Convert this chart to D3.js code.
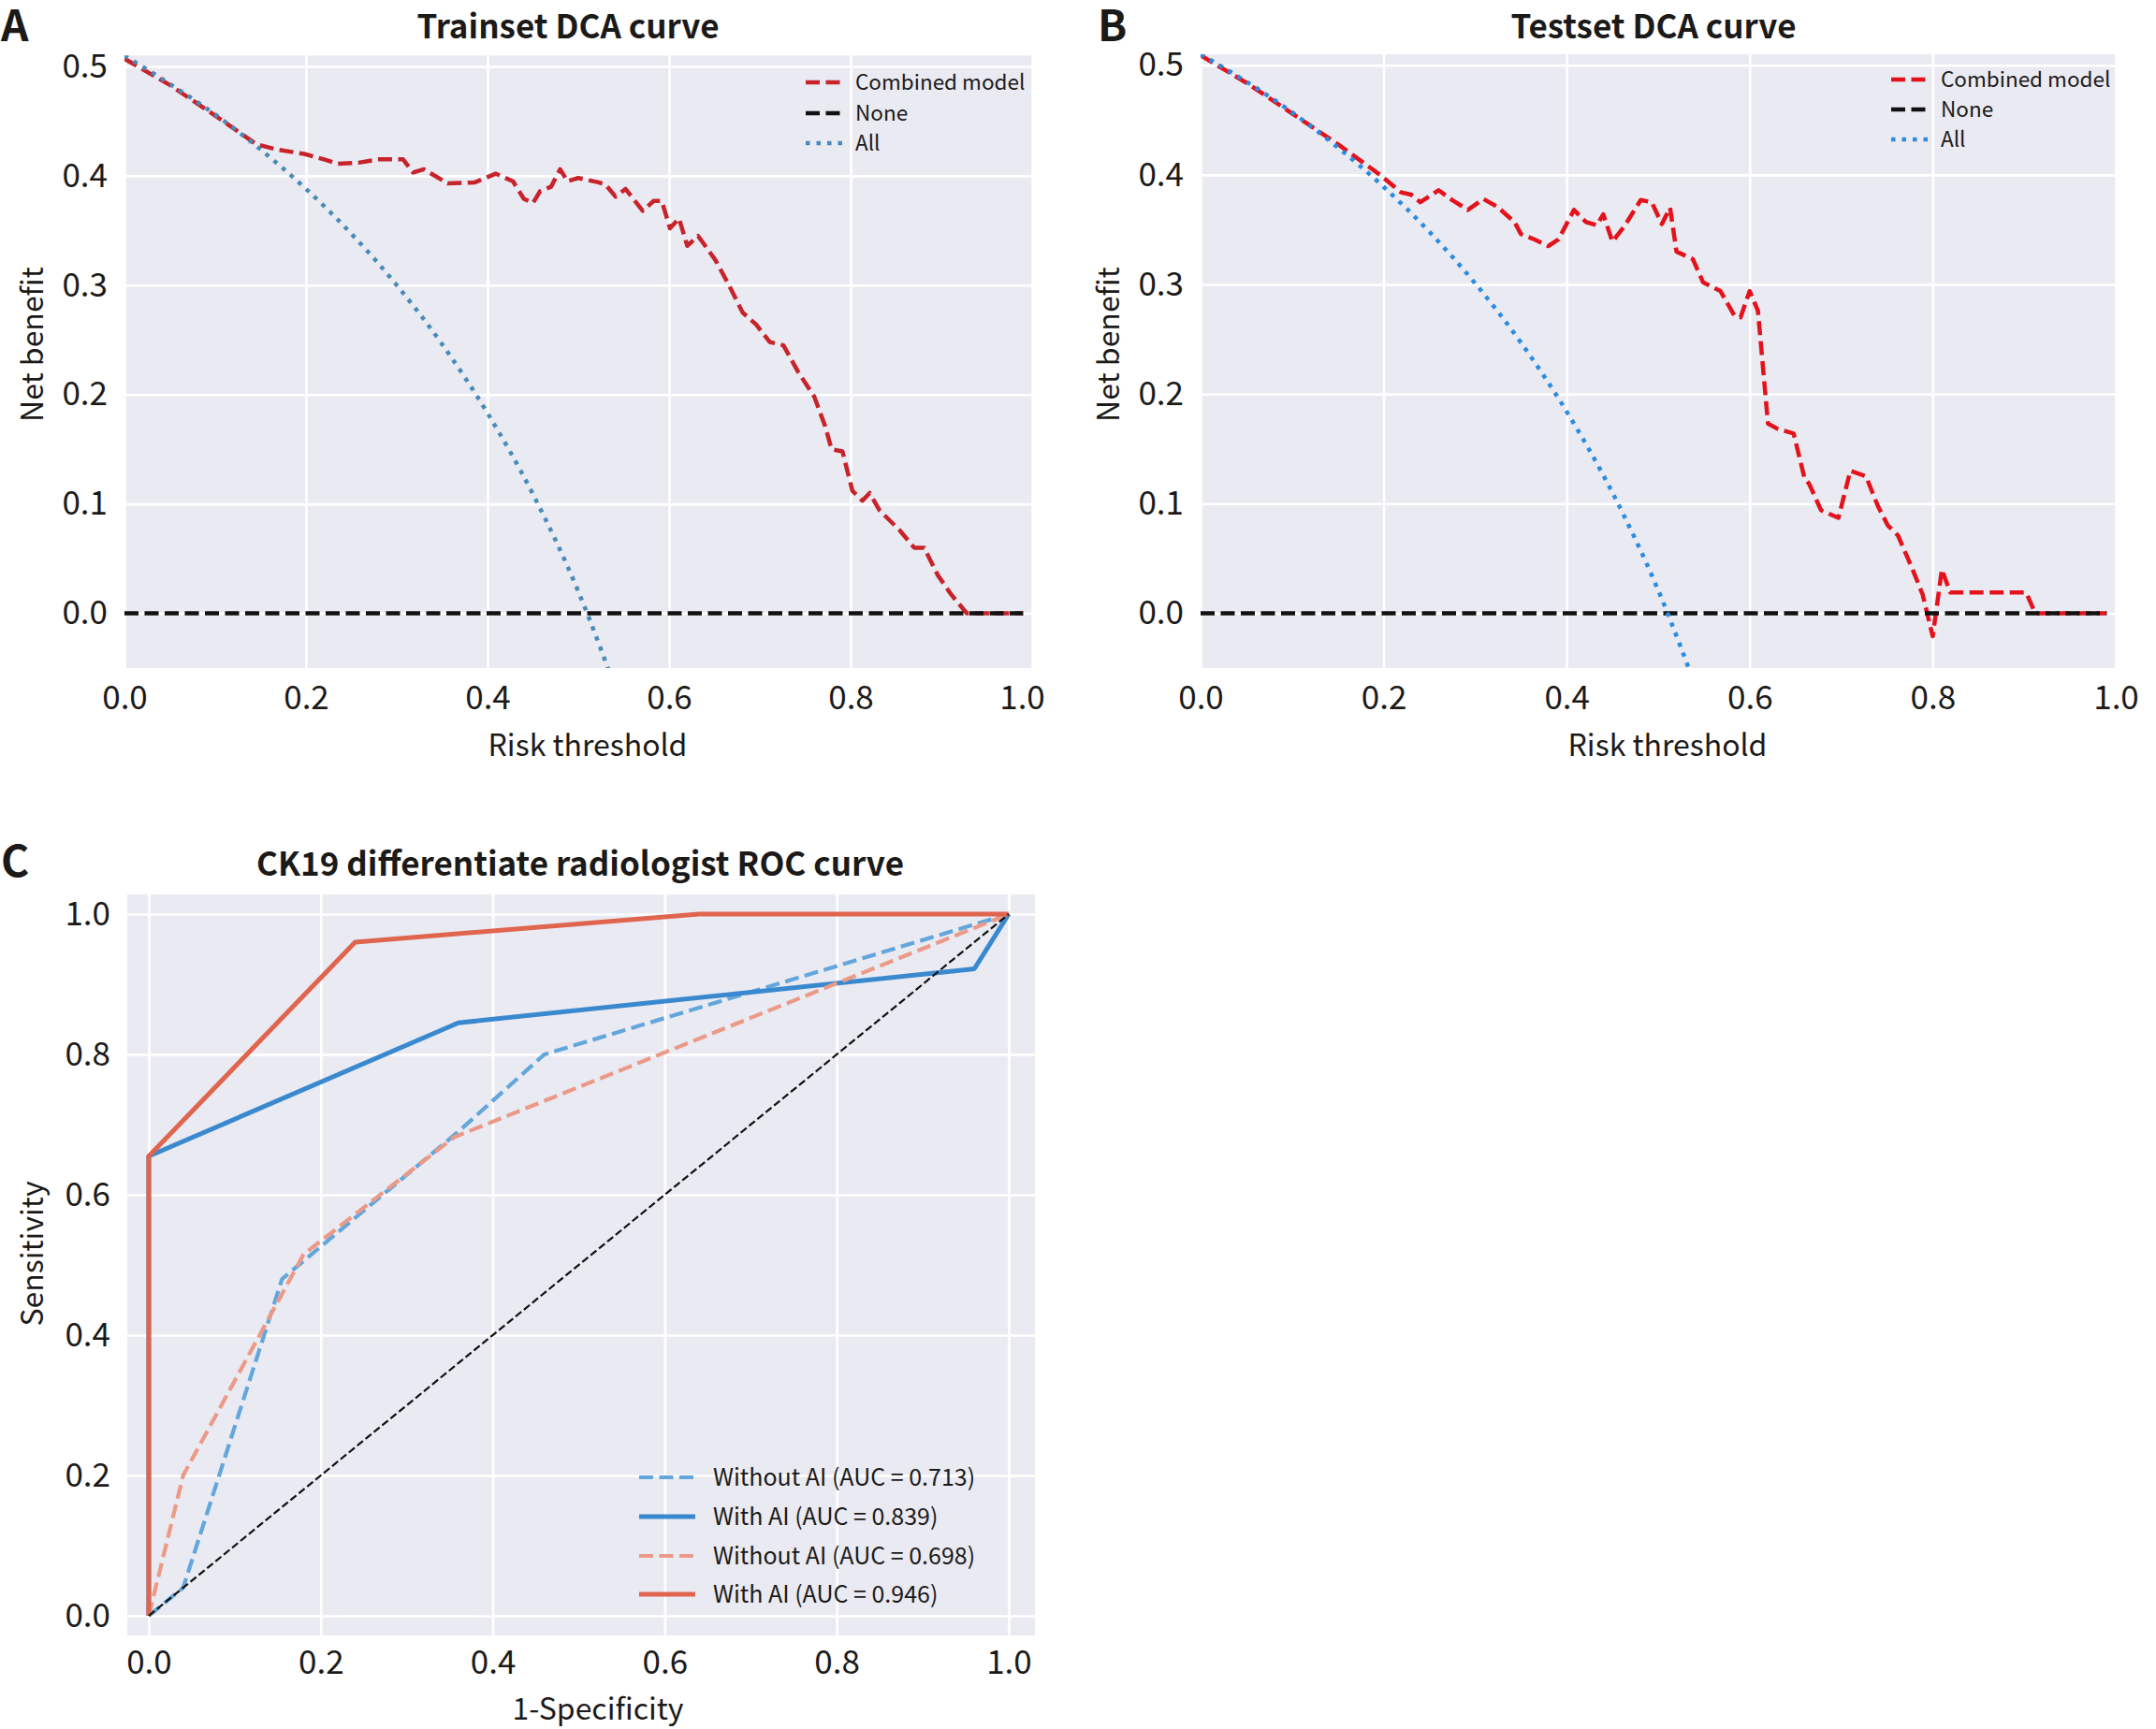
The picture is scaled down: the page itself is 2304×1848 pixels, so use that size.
<!DOCTYPE html>
<html>
<head>
<meta charset="utf-8">
<script src="https://cdn.jsdelivr.net/npm/d3@7"></script>
<style>
  body { margin: 0; background: #fff; }
  text { font-family: "Noto Sans CJK SC", "Noto Sans", sans-serif; fill: #1c1a19; }
</style>
</head>
<body>
<script>
const width = 2304;
const height = 1848;

// ---- data ----
const dcaTicksX = [0, 0.2, 0.4, 0.6, 0.8, 1.0];
const dcaTicksY = [0, 0.1, 0.2, 0.3, 0.4, 0.5];
const rocTicks = [0, 0.2, 0.4, 0.6, 0.8, 1.0];

// "All" strategy curves
const allThreshold = [0, 0.05, 0.1, 0.15, 0.2, 0.25, 0.3, 0.35, 0.4, 0.45, 0.5, 0.55];
const trainAll = [0.51, 0.484, 0.456, 0.424, 0.388, 0.347, 0.30, 0.246, 0.183, 0.109, 0.02, -0.09];
const testAll = [0.51, 0.485, 0.457, 0.425, 0.389, 0.348, 0.301, 0.247, 0.184, 0.11, 0.021, -0.088];

// "None" strategy
const noneThreshold = [0, 0.99];
const noneBenefit = [0, 0];

// combined model, train set
const trainThreshold = [0, 0.05, 0.1, 0.145, 0.168, 0.198, 0.22, 0.235, 0.258, 0.28, 0.307, 0.318, 0.33, 0.356, 0.386,
  0.409, 0.428, 0.44, 0.45, 0.458, 0.47, 0.48, 0.488, 0.5, 0.522, 0.53, 0.541, 0.552, 0.571, 0.583, 0.592, 0.601,
  0.611, 0.62, 0.632, 0.651, 0.666, 0.681, 0.696, 0.711, 0.726, 0.742, 0.76, 0.772, 0.779, 0.791, 0.802, 0.813,
  0.821, 0.832, 0.854, 0.87, 0.881, 0.896, 0.911, 0.928, 0.99];
const trainModel = [0.507, 0.483, 0.455, 0.429, 0.424, 0.42, 0.415, 0.411, 0.412, 0.415, 0.415, 0.403, 0.406, 0.393, 0.394,
  0.402, 0.395, 0.379, 0.375, 0.386, 0.39, 0.406, 0.395, 0.398, 0.394, 0.392, 0.381, 0.388, 0.368, 0.377, 0.377, 0.352,
  0.361, 0.336, 0.345, 0.323, 0.30, 0.275, 0.264, 0.248, 0.245, 0.221, 0.198, 0.171, 0.15, 0.148, 0.112, 0.103,
  0.11, 0.094, 0.076, 0.06, 0.06, 0.035, 0.017, 0.0, 0.0];

// combined model, test set
const testThreshold = [0, 0.05, 0.1, 0.15, 0.196, 0.219, 0.23, 0.24, 0.26, 0.275, 0.292, 0.309, 0.324, 0.343, 0.35,
  0.365, 0.38, 0.391, 0.408, 0.421, 0.433, 0.44, 0.45, 0.463, 0.481, 0.493, 0.504, 0.513, 0.52, 0.538, 0.549, 0.568,
  0.583, 0.59, 0.6, 0.609, 0.62, 0.631, 0.648, 0.66, 0.665, 0.678, 0.697, 0.71, 0.727, 0.74, 0.751, 0.762, 0.778,
  0.789, 0.8, 0.81, 0.819, 0.902, 0.912, 0.99];
const testModel = [0.509, 0.484, 0.456, 0.428, 0.4, 0.384, 0.382, 0.375, 0.386, 0.377, 0.368, 0.378, 0.371, 0.357, 0.346,
  0.341, 0.335, 0.341, 0.368, 0.357, 0.354, 0.364, 0.339, 0.353, 0.377, 0.375, 0.355, 0.37, 0.33, 0.323, 0.302, 0.294,
  0.272, 0.27, 0.294, 0.276, 0.173, 0.168, 0.164, 0.123, 0.118, 0.094, 0.087, 0.13, 0.125, 0.098, 0.08, 0.071, 0.04,
  0.017, -0.021, 0.04, 0.019, 0.019, 0.0, 0.0];

// ROC curves
const rocLabels = ["Without AI (AUC = 0.713)", "With AI (AUC = 0.839)", "Without AI (AUC = 0.698)", "With AI (AUC = 0.946)"];
const rocFpr1 = [0, 0.04, 0.155, 0.36, 0.46, 1];
const rocTpr1 = [0, 0.04, 0.48, 0.69, 0.80, 1];
const rocFpr2 = [0, 0, 0.36, 0.96, 1];
const rocTpr2 = [0, 0.655, 0.845, 0.922, 1];
const rocFpr3 = [0, 0.04, 0.18, 0.355, 1];
const rocTpr3 = [0, 0.2, 0.515, 0.682, 1];
const rocFpr4 = [0, 0, 0.24, 0.64, 1];
const rocTpr4 = [0, 0.655, 0.96, 1, 1];
const chanceFpr = [0, 1];
const chanceTpr = [0, 1];

const fmt = d3.format(".1f");

const svg = d3.select("body").append("svg")
  .attr("width", width)
  .attr("height", height);

const defs = svg.append("defs");

function makePanel(id, xr, yr, xdom, ydom, xt, yt, xpad) {
  const x = d3.scaleLinear().domain(xdom).range(xr);
  const y = d3.scaleLinear().domain(ydom).range(yr);
  const g = svg.append("g");
  g.append("rect")
    .attr("x", xr[0]).attr("y", yr[1])
    .attr("width", xr[1] - xr[0]).attr("height", yr[0] - yr[1])
    .attr("fill", "#eaeaf2");
  defs.append("clipPath").attr("id", id)
    .append("rect")
    .attr("x", xr[0]).attr("y", yr[1])
    .attr("width", xr[1] - xr[0]).attr("height", yr[0] - yr[1]);

  // gridlines + tick labels through d3 axes
  const ax = g.append("g").attr("transform", `translate(0,${yr[0]})`)
    .call(d3.axisBottom(x).tickValues(xt).tickFormat(fmt).tickSize(-(yr[0] - yr[1])).tickPadding(xpad));
  const ay = g.append("g").attr("transform", `translate(${xr[0]},0)`)
    .call(d3.axisLeft(y).tickValues(yt).tickFormat(fmt).tickSize(-(xr[1] - xr[0])).tickPadding(18));
  [ax, ay].forEach(a => {
    a.select(".domain").remove();
    a.selectAll(".tick line").attr("stroke", "#fff").attr("stroke-width", 2.6);
    a.selectAll(".tick text").style("font-size", "35px").attr("fill", "#1c1a19");
  });
  const plot = g.append("g").attr("clip-path", `url(#${id})`);
  return { x, y, g, plot, ax };
}

function drawLine(p, xs, ys, style, curve) {
  const line = d3.line()
    .x((d, i) => p.x(xs[i]))
    .y((d, i) => p.y(d))
    .curve(curve || d3.curveLinear);
  p.plot.append("path")
    .datum(ys)
    .attr("d", line)
    .attr("fill", "none")
    .attr("stroke", style.color)
    .attr("stroke-width", style.w)
    .attr("stroke-dasharray", style.dash || null)
    .attr("stroke-linejoin", "round");
}

function legend(g, x0, x1, tx, rows, size) {
  rows.forEach(r => {
    g.append("line")
      .attr("x1", x0).attr("x2", x1).attr("y1", r.y).attr("y2", r.y)
      .attr("stroke", r.color).attr("stroke-width", r.w)
      .attr("stroke-dasharray", r.dash || null);
    g.append("text")
      .attr("x", tx).attr("y", r.y).attr("dy", "0.35em")
      .style("font-size", size + "px")
      .text(r.label);
  });
}

function label(txt, x, y, size, weight, rotate, anchor) {
  svg.append("text")
    .attr("transform", `translate(${x},${y})` + (rotate ? " rotate(-90)" : ""))
    .attr("text-anchor", anchor || "middle")
    .style("font-size", size + "px")
    .style("font-weight", weight || "normal")
    .text(txt);
}

const dash = "15,6.5";
const dots = "4.5,7";

// ---- panel A ----
const pa = makePanel("clipA", [133, 1103], [714, 59.3], [0, 1], [-0.05, 0.51], dcaTicksX, dcaTicksY, 19);
// the last tick label sits a little inside the frame in the original
pa.ax.selectAll(".tick text").filter(d => d === 1).attr("dx", -11);
const redA = { color: "#c8232b", w: 4.5, dash: dash };
const noneSt = { color: "#111", w: 4.5, dash: dash };
const allA = { color: "#4a8ab8", w: 4.5, dash: dots };
drawLine(pa, trainThreshold, trainModel, redA);
drawLine(pa, noneThreshold, noneBenefit, noneSt);
drawLine(pa, allThreshold, trainAll, allA, d3.curveMonotoneX);
legend(pa.g, 861, 902, 914, [
  Object.assign({ y: 88, label: "Combined model" }, redA),
  Object.assign({ y: 121, label: "None" }, noneSt),
  Object.assign({ y: 153, label: "All" }, allA)
], 22.5);

// ---- panel B ----
const pb = makePanel("clipB", [1283, 2261], [714, 58], [0, 1], [-0.05, 0.51], dcaTicksX, dcaTicksY, 19);
const redB = { color: "#e3121b", w: 4.5, dash: dash };
const allB = { color: "#2a8be0", w: 4.5, dash: dots };
drawLine(pb, testThreshold, testModel, redB);
drawLine(pb, noneThreshold, noneBenefit, noneSt);
drawLine(pb, allThreshold, testAll, allB, d3.curveMonotoneX);
legend(pb.g, 2021, 2062, 2074, [
  Object.assign({ y: 85, label: "Combined model" }, redB),
  Object.assign({ y: 117, label: "None" }, noneSt),
  Object.assign({ y: 149, label: "All" }, allB)
], 22.5);

// ---- panel C ----
const pc = makePanel("clipC", [136, 1106], [1748, 956], [-0.025, 1.0305], [-0.028, 1.028], rocTicks, rocTicks, 16);
const rocStyles = [
  { color: "#62a6dc", w: 4.2, dash: dash },
  { color: "#3a89cf", w: 5 },
  { color: "#eb9a88", w: 4.2, dash: dash },
  { color: "#e0654f", w: 5 }
];
drawLine(pc, rocFpr1, rocTpr1, rocStyles[0]);
drawLine(pc, rocFpr2, rocTpr2, rocStyles[1]);
drawLine(pc, rocFpr3, rocTpr3, rocStyles[2]);
drawLine(pc, rocFpr4, rocTpr4, rocStyles[3]);
drawLine(pc, chanceFpr, chanceTpr, { color: "#111", w: 2.2, dash: "8,3.5" });
legend(pc.g, 683, 743, 762, rocLabels.map((l, i) =>
  Object.assign({ y: [1579, 1621, 1663, 1704][i], label: l }, rocStyles[i])), 25);

// ---- titles, axis labels, panel letters ----
label("Trainset DCA curve", 607, 41, 35, "bold");
label("Testset DCA curve", 1767, 41, 35, "bold");
label("CK19 differentiate radiologist ROC curve", 620, 936, 35, "bold");
label("Net benefit", 46, 368, 32, "normal", true);
label("Net benefit", 1196, 368, 32, "normal", true);
label("Sensitivity", 46, 1340, 32, "normal", true);
label("Risk threshold", 628, 808, 32);
label("Risk threshold", 1782, 808, 32);
label("1-Specificity", 639, 1838, 32);
label("A", 1, 44, 46, "bold", false, "start");
label("B", 1173, 44, 46, "bold", false, "start");
label("C", 1, 937, 46, "bold", false, "start");
</script>
</body>
</html>
